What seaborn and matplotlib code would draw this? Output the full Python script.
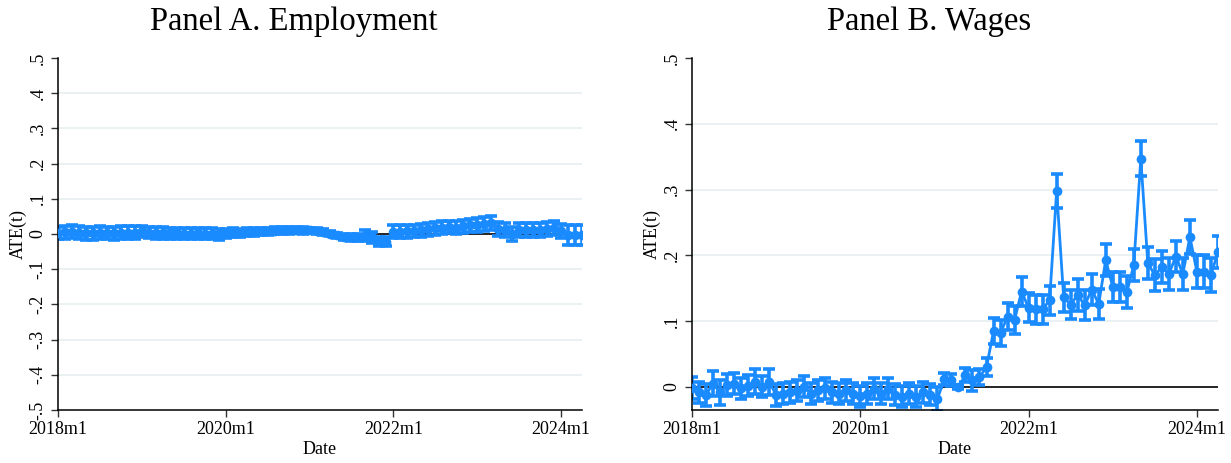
import numpy as np
import pandas as pd
import matplotlib
matplotlib.use("Agg")
import matplotlib.pyplot as plt
import seaborn as sns

# ---------------- data ----------------
months = list(range(76))  # 2018m1 .. 2024m4
tick_pos = [0, 24, 48, 72]
tick_labels = ["2018m1", "2020m1", "2022m1", "2024m1"]

emp_ate = [0.003, 0.005, 0.006, 0.004, 0.002, 0.002, 0.004, 0.003, 0.002, 0.004, 0.004, 0.004,
           0.007, 0.004, 0.003, 0.003, 0.002, 0.002, 0.001, 0.001, 0.002, 0.001, 0.001, -0.001,
           0.002, 0.003, 0.003, 0.005, 0.006, 0.007, 0.008, 0.009, 0.010, 0.010, 0.011, 0.010,
           0.010, 0.008, 0.005, 0.001, -0.004, -0.008, -0.010, -0.010, -0.005, -0.010, -0.021, -0.022,
           0.006, 0.006, 0.007, 0.008, 0.010, 0.013, 0.016, 0.018, 0.020, 0.018, 0.022, 0.024,
           0.026, 0.028, 0.030, 0.015, 0.012, 0.000, 0.010, 0.010, 0.011, 0.012, 0.013, 0.017,
           0.008, -0.003, -0.003, -0.003]
emp_ci = [0.018] * 12 + [0.016] * 12 + \
         [0.013, 0.013, 0.012, 0.012, 0.011, 0.011, 0.010, 0.010, 0.010, 0.009, 0.009, 0.009] + \
         [0.008, 0.008, 0.008, 0.008, 0.008, 0.009, 0.010, 0.010, 0.016, 0.016, 0.013, 0.013] + \
         [0.018] * 12 + \
         [0.020, 0.020, 0.020, 0.020, 0.020, 0.020, 0.020, 0.020, 0.020, 0.020, 0.020, 0.020] + \
         [0.020, 0.028, 0.028, 0.028]

wage_ate = [-0.002, -0.008, -0.012, 0.005, -0.008, 0.003, 0.005, -0.002, 0.002, 0.008, 0.000, 0.008,
            -0.012, -0.010, -0.008, -0.006, 0.000, -0.010, -0.005, -0.002, -0.008, -0.010, -0.005, -0.010,
            -0.014, -0.010, -0.003, -0.010, -0.003, -0.012, -0.015, -0.010, -0.015, -0.008, -0.012, -0.018,
            0.012, 0.010, 0.000, 0.018, 0.010, 0.015, 0.030, 0.085, 0.082, 0.107, 0.102, 0.145,
            0.120, 0.118, 0.118, 0.132, 0.298, 0.136, 0.125, 0.140, 0.124, 0.148, 0.126, 0.193,
            0.152, 0.152, 0.144, 0.185, 0.347, 0.188, 0.170, 0.182, 0.172, 0.198, 0.172, 0.228,
            0.175, 0.175, 0.170, 0.205]
wage_ci = [0.017, 0.016, 0.017, 0.019, 0.019, 0.016, 0.016, 0.016, 0.016, 0.019, 0.016, 0.020,
           0.017, 0.016, 0.016, 0.016, 0.016, 0.016, 0.016, 0.016, 0.016, 0.016, 0.016, 0.016,
           0.016, 0.016, 0.016, 0.016, 0.016, 0.016, 0.016, 0.016, 0.016, 0.016, 0.016, 0.018,
           0.009, 0.009, 0.003, 0.011, 0.016, 0.012, 0.014, 0.020, 0.020, 0.021, 0.021, 0.022,
           0.022, 0.022, 0.022, 0.022, 0.026, 0.022, 0.022, 0.024, 0.023, 0.023, 0.023, 0.024,
           0.023, 0.023, 0.024, 0.024, 0.027, 0.024, 0.024, 0.024, 0.024, 0.024, 0.024, 0.026,
           0.025, 0.025, 0.026, 0.025]

emp_df = pd.DataFrame({"month": months, "ate": emp_ate, "ci": emp_ci})
wage_df = pd.DataFrame({"month": months, "ate": wage_ate, "ci": wage_ci})

# ---------------- style ----------------
sns.set_theme(style="white")
plt.rcParams["font.family"] = ["Liberation Serif", "DejaVu Serif"]
plt.rcParams["text.color"] = "black"
plt.rcParams["axes.labelcolor"] = "black"
plt.rcParams["xtick.color"] = "black"
plt.rcParams["ytick.color"] = "black"
BLUE = "#1A8AFF"
GRID = "#E8F0F2"

fig = plt.figure(figsize=(12.31, 4.63), dpi=100)
axA = fig.add_axes([0.0471, 0.1145, 0.4257, 0.7605])
axB = fig.add_axes([0.5621, 0.1145, 0.4273, 0.7605])


def draw(ax, df, ylim, yticks, yticklabels, grid_ticks, title):
    for g in grid_ticks:
        ax.axhline(g, color=GRID, lw=1.3, zorder=0)
    ax.axhline(0, color="black", lw=1.2, zorder=1)
    ax.errorbar(df["month"], df["ate"], yerr=df["ci"], fmt="none", ecolor=BLUE,
                elinewidth=2.6, capsize=4, capthick=2.6, zorder=2)
    sns.lineplot(data=df, x="month", y="ate", ax=ax, color=BLUE, lw=2.0,
                 marker="o", markersize=7, markeredgewidth=0, zorder=3)
    ax.set_xlim(0, 75)
    ax.set_ylim(*ylim)
    ax.set_xticks(tick_pos)
    ax.set_xticklabels(tick_labels, fontsize=13)
    ax.set_yticks(yticks)
    ax.set_yticklabels(yticklabels, fontsize=13, rotation=90, va="center")
    ax.tick_params(axis="both", direction="out", length=5, width=1, color="#333333",
                   bottom=True, left=True, pad=3)
    ax.set_xlabel("Date", fontsize=13, labelpad=2)
    ax.set_ylabel("ATE(t)", fontsize=13, labelpad=2)
    ax.set_title(title, fontsize=23.5, x=0.45, pad=20, color="black")
    for s in ["top", "right"]:
        ax.spines[s].set_visible(False)
    for s in ["left", "bottom"]:
        ax.spines[s].set_color("black")
        ax.spines[s].set_linewidth(1.1)
    ax.grid(False)
    if ax.get_legend():
        ax.get_legend().remove()


a_ticks = [-0.5, -0.4, -0.3, -0.2, -0.1, 0, 0.1, 0.2, 0.3, 0.4, 0.5]
a_labels = ["-.5", "-.4", "-.3", "-.2", "-.1", "0", ".1", ".2", ".3", ".4", ".5"]
draw(axA, emp_df, (-0.5, 0.5), a_ticks, a_labels,
     [-0.4, -0.3, -0.2, -0.1, 0.1, 0.2, 0.3, 0.4], "Panel A. Employment")

b_ticks = [0, 0.1, 0.2, 0.3, 0.4, 0.5]
b_labels = ["0", ".1", ".2", ".3", ".4", ".5"]
draw(axB, wage_df, (-0.035, 0.5), b_ticks, b_labels,
     [0.1, 0.2, 0.3, 0.4], "Panel B. Wages")

fig.savefig("out.png", dpi=100)
